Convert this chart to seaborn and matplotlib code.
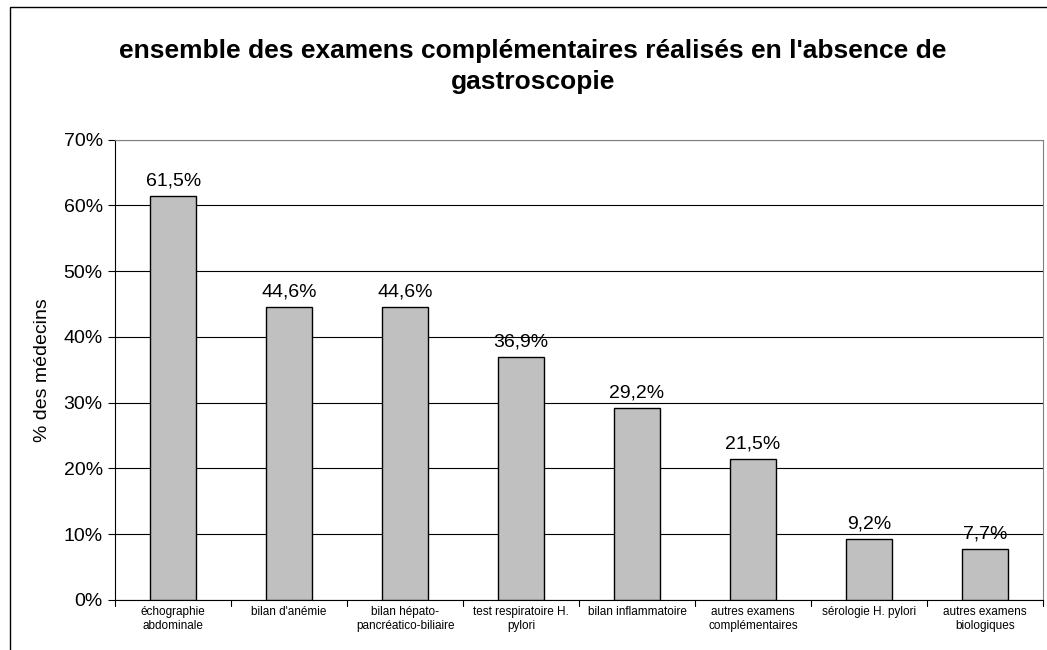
import pandas as pd
import seaborn as sns
import matplotlib.pyplot as plt
from matplotlib.patches import Rectangle
from matplotlib.ticker import MultipleLocator, PercentFormatter

# --- Data ---
categories = [
    "échographie\nabdominale",
    "bilan d'anémie",
    "bilan hépato-\npancréatico-biliaire",
    "test respiratoire H.\npylori",
    "bilan inflammatoire",
    "autres examens\ncomplémentaires",
    "sérologie H. pylori",
    "autres examens\nbiologiques",
]
values = [61.5, 44.6, 44.6, 36.9, 29.2, 21.5, 9.2, 7.7]
value_labels = ["61,5%", "44,6%", "44,6%", "36,9%", "29,2%", "21,5%", "9,2%", "7,7%"]

sns.set_theme(style="white")
plt.rcParams['font.family'] = ['Liberation Sans', 'DejaVu Sans']
plt.rcParams['text.color'] = 'black'
plt.rcParams['axes.labelcolor'] = 'black'
plt.rcParams['xtick.color'] = 'black'
plt.rcParams['ytick.color'] = 'black'

df = pd.DataFrame({"examen": categories, "pct": values})

fig = plt.figure(figsize=(10.47, 6.5), dpi=100)
ax = fig.add_axes([0.110, 0.077, 0.886, 0.708])

sns.barplot(data=df, x="examen", y="pct", color="#c0c0c0", edgecolor="black",
            linewidth=1.0, width=0.4, saturation=1, ax=ax, zorder=3)

ax.set_ylim(0, 70)
ax.set_xlim(-0.5, len(categories) - 0.5)
ax.yaxis.set_major_locator(MultipleLocator(10))
ax.yaxis.set_major_formatter(PercentFormatter(decimals=0))
ax.grid(axis="y", color="black", linewidth=0.8, zorder=0)
ax.set_axisbelow(True)

# category ticks between bars
ax.set_xticks(range(len(categories)))
ax.set_xticklabels(categories, fontsize=8.5, linespacing=1.3)
ax.tick_params(axis="x", length=0, pad=4)
for i in range(len(categories) + 1):
    ax.plot([i - 0.5, i - 0.5], [0, -0.9], color="black", linewidth=0.8,
            clip_on=False, transform=ax.transData)
ax.tick_params(axis="y", left=True, length=5, width=0.8, color="black",
               labelsize=14, pad=4)

for s in ["top", "right"]:
    ax.spines[s].set_color("#808080")
    ax.spines[s].set_linewidth(0.8)
for s in ["left", "bottom"]:
    ax.spines[s].set_color("black")
    ax.spines[s].set_linewidth(0.8)

ax.set_xlabel("")
ax.set_ylabel("% des médecins", fontsize=14, labelpad=9)

for i, (v, lab) in enumerate(zip(values, value_labels)):
    ax.text(i, v + 1.0, lab, ha="center", va="bottom", fontsize=14, zorder=4)

fig.text(0.509, 0.898, "ensemble des examens complémentaires réalisés en l'absence de\ngastroscopie",
         ha="center", va="center", fontsize=19, fontweight="bold", linespacing=1.35)

# outer chart border (left and top visible)
fig.patches.append(Rectangle((10 / 1047, -0.1), 1.2, 1 - 7 / 650 + 0.1,
                             transform=fig.transFigure, fill=False,
                             edgecolor="black", linewidth=1.0))

fig.savefig("out.png", dpi=100)
